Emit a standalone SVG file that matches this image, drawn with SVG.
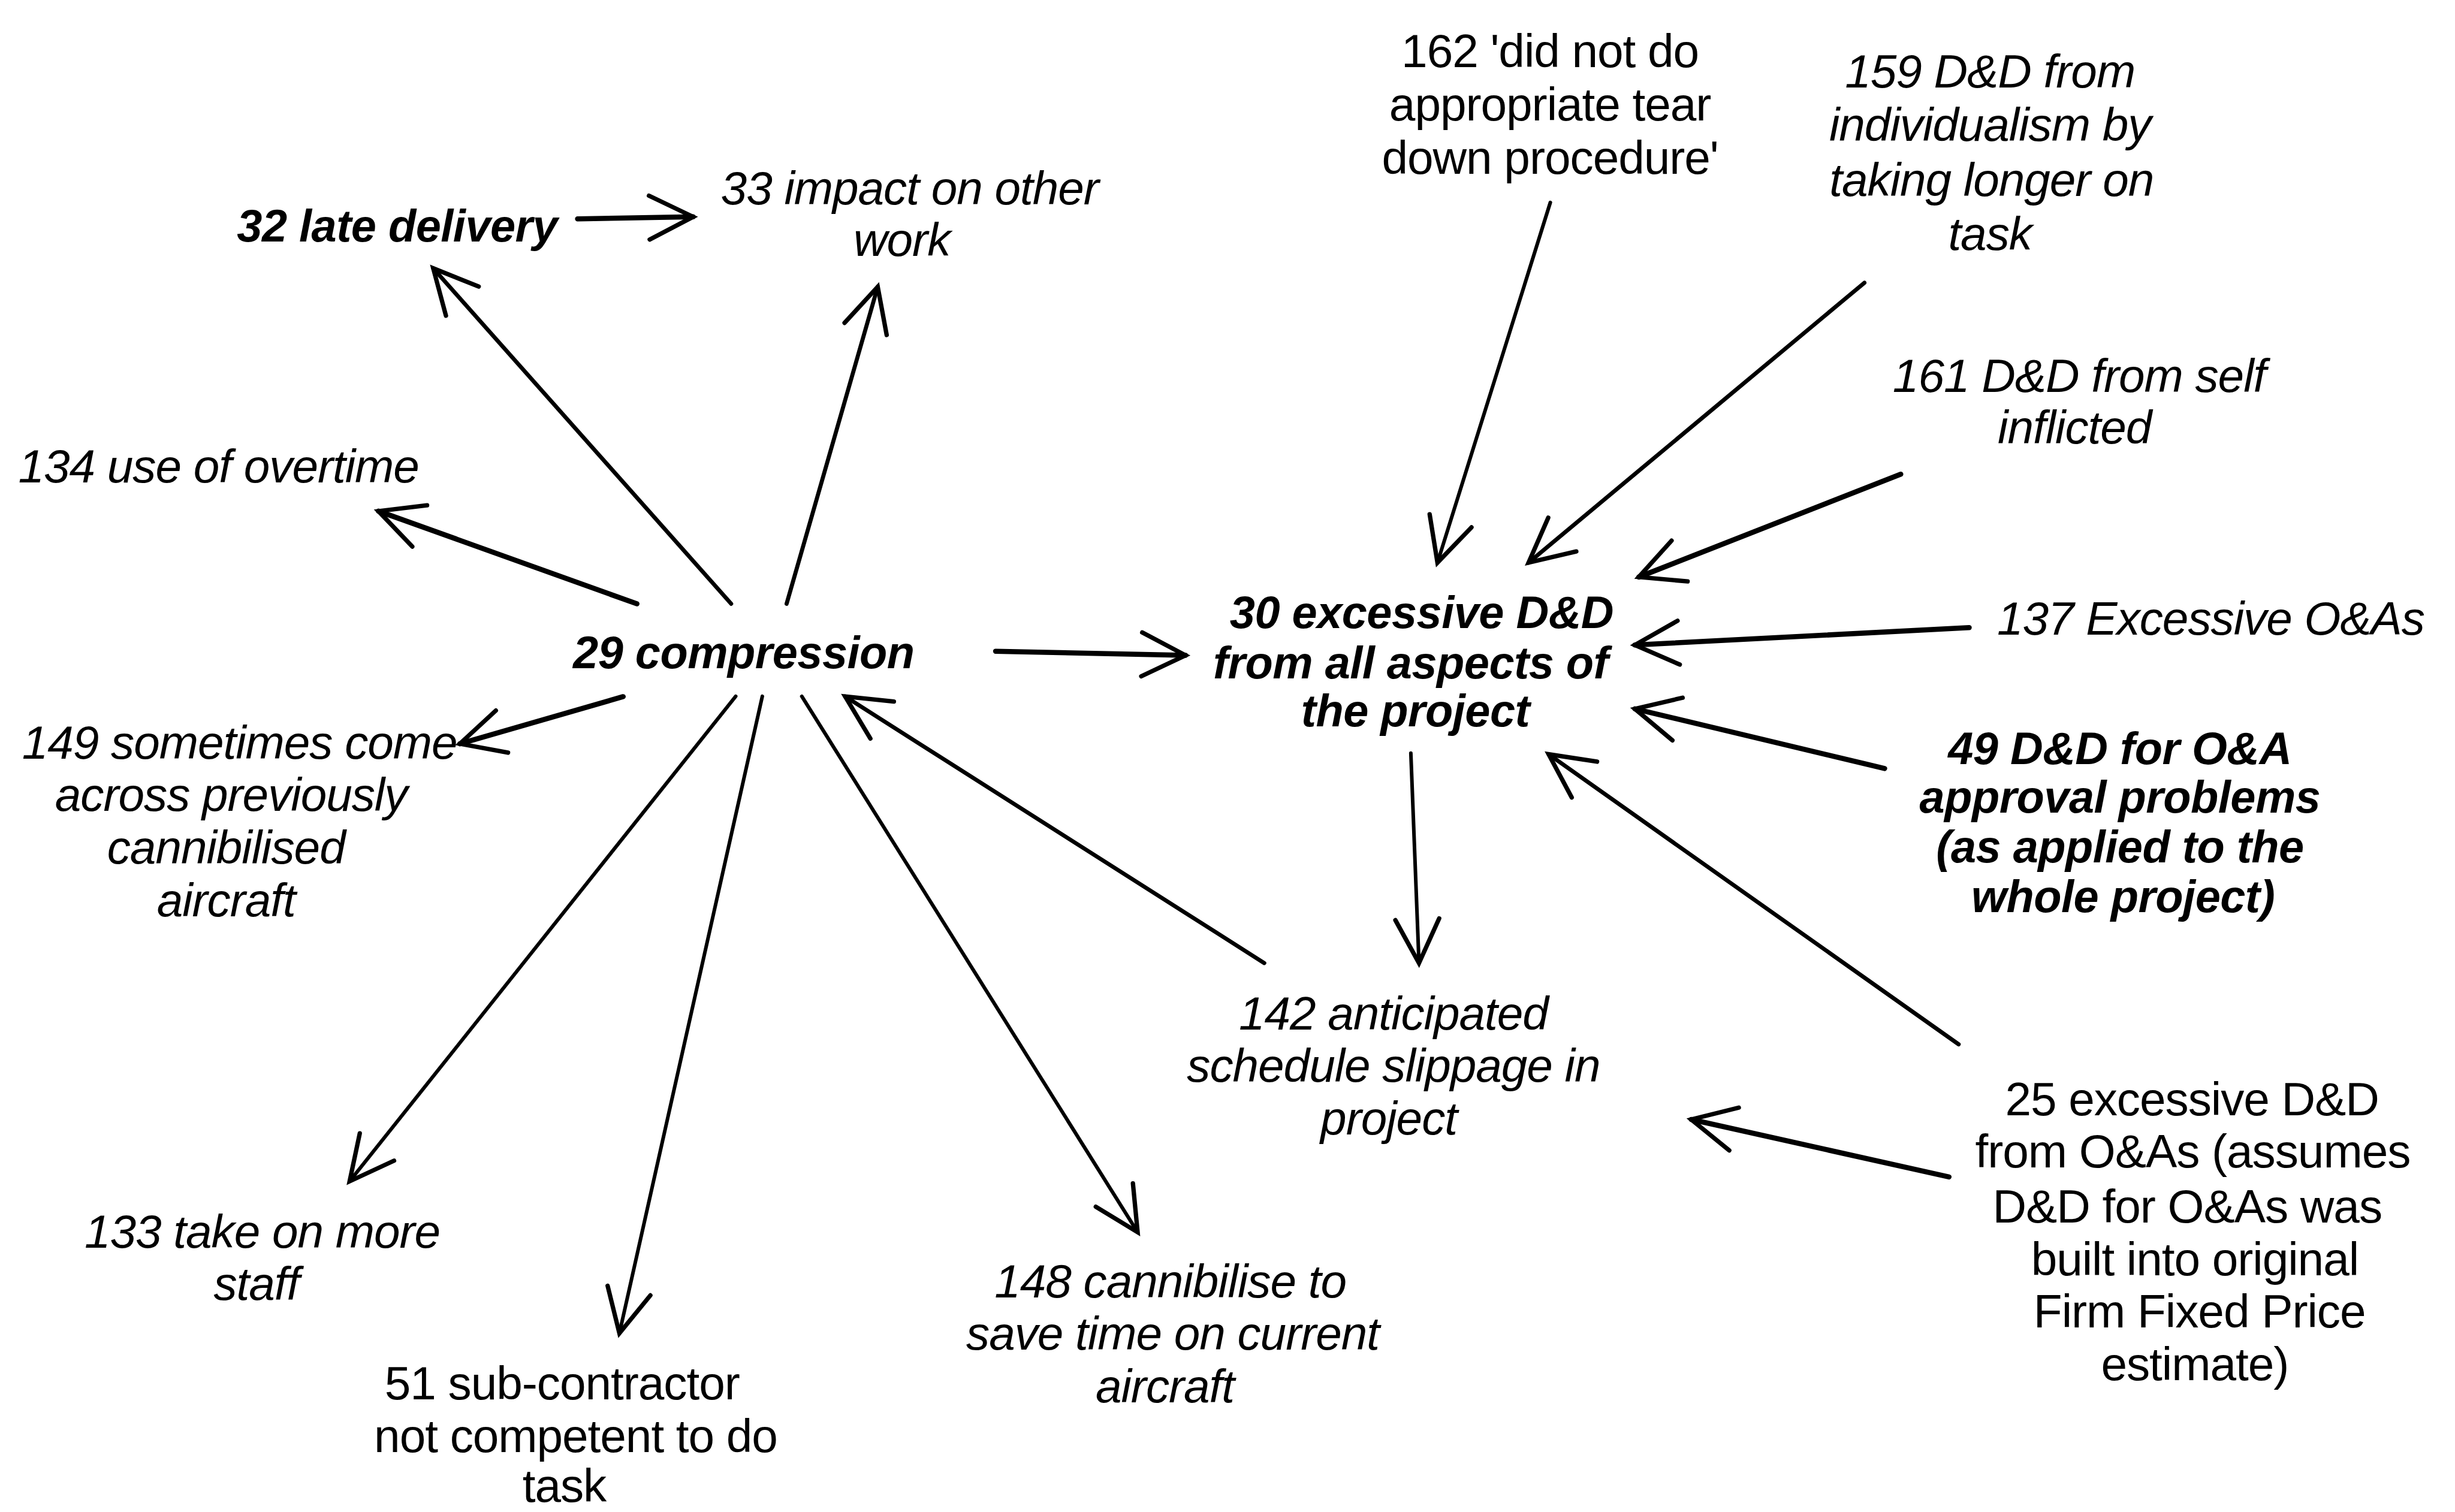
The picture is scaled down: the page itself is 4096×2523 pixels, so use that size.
<svg xmlns="http://www.w3.org/2000/svg" width="4096" height="2523" viewBox="0 0 4096 2523">
  <defs>
    <style>
      .lbl { font-family: "Liberation Sans", Arial, sans-serif; font-size: 30px; fill: #000; text-anchor: middle; letter-spacing: -0.4px; }
      .it { font-style: italic; }
      .bi { font-style: italic; font-weight: bold; font-size: 29px; letter-spacing: -0.2px; }
      .edge { fill: none; stroke: #000; stroke-width: 2.6; stroke-linecap: round; marker-end: url(#head); }
      .thick { stroke-width: 3.3; }
      .thin { stroke-width: 2.3; }
    </style>
    <marker id="head" markerUnits="userSpaceOnUse" markerWidth="44" markerHeight="44" refX="36" refY="20" orient="auto" overflow="visible">
      <path d="M8,6 L36,20 L8,34" fill="none" stroke="#000" stroke-width="2.8" stroke-linecap="round" stroke-linejoin="miter"/>
    </marker>
  </defs>
  <rect width="4096" height="2523" fill="#fff"/>
  <g transform="scale(2.61224)">
    <g id="connectors">
      <line class="edge thick" x1="368.9" y1="139.8" x2="442.7" y2="138.5"/>
      <line class="edge" x1="467" y1="385.7" x2="276.7" y2="171.4"/>
      <line class="edge" x1="502.4" y1="385.7" x2="560.6" y2="183.2"/>
      <line class="edge thick" x1="406.8" y1="385.7" x2="241.7" y2="326.5"/>
      <line class="edge thick" x1="398" y1="445" x2="293.7" y2="475.1"/>
      <line class="edge thin" x1="469.9" y1="444.8" x2="223.3" y2="754.6"/>
      <line class="edge thin" x1="486.9" y1="444.8" x2="395.6" y2="851.7"/>
      <line class="edge thin" x1="512.1" y1="444.8" x2="726.6" y2="787.1"/>
      <line class="edge" x1="807.5" y1="615.2" x2="539.8" y2="444.9"/>
      <line class="edge thick" x1="635.9" y1="416" x2="757.2" y2="418.6"/>
      <line class="edge thin" x1="990.2" y1="129.3" x2="918.1" y2="359.4"/>
      <line class="edge" x1="1190.8" y1="180.6" x2="976.3" y2="359.4"/>
      <line class="edge thick" x1="1214" y1="302.9" x2="1046.7" y2="368.6"/>
      <line class="edge thick" x1="1257.7" y1="400.9" x2="1044.2" y2="412"/>
      <line class="edge thick" x1="1203.7" y1="490.9" x2="1044.2" y2="452.8"/>
      <line class="edge" x1="1251" y1="667.1" x2="989.1" y2="481.8"/>
      <line class="edge thick" x1="1244.8" y1="751.8" x2="1080.2" y2="715.1"/>
      <line class="edge thin" x1="901.1" y1="481.1" x2="906.3" y2="615.2"/>
    </g>

    <g id="n32"><text class="lbl bi" x="253.7" y="154.3">32 late delivery</text></g>
    <g id="n33"><text class="lbl it"><tspan x="581" y="130.6">33 impact on other</tspan><tspan x="576" y="163.5">work</tspan></text></g>
    <g id="n162"><text class="lbl"><tspan x="990" y="43">162 'did not do</tspan><tspan x="990" y="77">appropriate tear</tspan><tspan x="990" y="110.9">down procedure'</tspan></text></g>
    <g id="n159"><text class="lbl it"><tspan x="1271" y="56">159 D&amp;D from</tspan><tspan x="1271" y="90">individualism by</tspan><tspan x="1272" y="125.3">taking longer on</tspan><tspan x="1271" y="159.5">task</tspan></text></g>
    <g id="n161"><text class="lbl it"><tspan x="1328" y="250.3">161 D&amp;D from self</tspan><tspan x="1325" y="283.1">inflicted</tspan></text></g>
    <g id="n137"><text class="lbl it" x="1412" y="405.4">137 Excessive O&amp;As</text></g>
    <g id="n30"><text class="lbl bi"><tspan x="908" y="401">30 excessive D&amp;D</tspan><tspan x="901" y="433.5">from all aspects of</tspan><tspan x="904" y="464">the project</tspan></text></g>
    <g id="n49"><text class="lbl bi"><tspan x="1354" y="488">49 D&amp;D for O&amp;A</tspan><tspan x="1354" y="519">approval problems</tspan><tspan x="1354" y="551">(as applied to the</tspan><tspan x="1356" y="582.5">whole project)</tspan></text></g>
    <g id="n25"><text class="lbl"><tspan x="1400" y="712.3">25 excessive D&amp;D</tspan><tspan x="1400.5" y="745.8">from O&amp;As (assumes</tspan><tspan x="1397" y="781">D&amp;D for O&amp;As was</tspan><tspan x="1401.8" y="814.6">built into original</tspan><tspan x="1404.8" y="848.1">Firm Fixed Price</tspan><tspan x="1401.8" y="881.7">estimate)</tspan></text></g>
    <g id="n142"><text class="lbl it"><tspan x="890" y="657.6">142 anticipated</tspan><tspan x="890" y="691.1">schedule slippage in</tspan><tspan x="887" y="724.5">project</tspan></text></g>
    <g id="n148"><text class="lbl it"><tspan x="747.5" y="828.7">148 cannibilise to</tspan><tspan x="749" y="862.2">save time on current</tspan><tspan x="744" y="895.8">aircraft</tspan></text></g>
    <g id="n51"><text class="lbl"><tspan x="359" y="894">51 sub-contractor</tspan><tspan x="367.7" y="927.5">not competent to do</tspan><tspan x="360.4" y="959.5">task</tspan></text></g>
    <g id="n133"><text class="lbl it"><tspan x="167.5" y="797">133 take on more</tspan><tspan x="163.8" y="830.5">staff</tspan></text></g>
    <g id="n149"><text class="lbl it"><tspan x="153" y="484.6">149 sometimes come</tspan><tspan x="147.6" y="518">across previously</tspan><tspan x="144.4" y="551.7">cannibilised</tspan><tspan x="144.4" y="585.2">aircraft</tspan></text></g>
    <g id="n134"><text class="lbl it" x="139.6" y="308.1">134 use of overtime</text></g>
    <g id="n29"><text class="lbl bi" x="475" y="427">29 compression</text></g>
  </g>
</svg>
